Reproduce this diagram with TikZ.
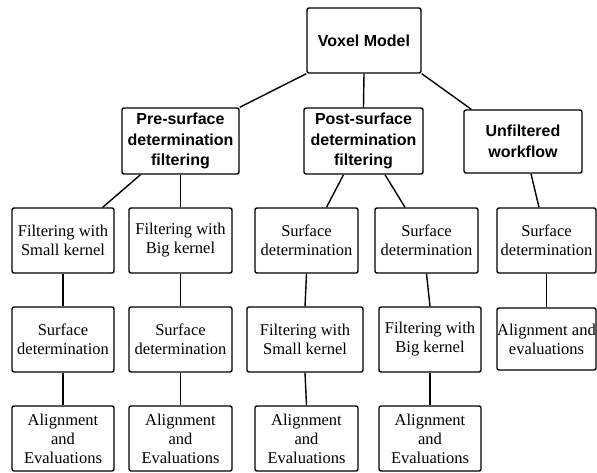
\documentclass[tikz,border=0pt]{standalone}
\usepackage{fontspec}
\setsansfont{Liberation Sans}
\newfontfamily\taskfont{LiberationSerif}[Extension=.ttf,UprightFont=*-Regular]
\usetikzlibrary{positioning}

\begin{document}
\begin{tikzpicture}[x=1pt,y=-1pt]

\tikzstyle{headbox} = [draw=black,line width=1.4pt,rounded corners=2pt,align=center,inner sep=0pt,font=\sffamily\bfseries\fontsize{16}{20.5}\selectfont]
\tikzstyle{taskbox} = [draw=black,line width=1.4pt,rounded corners=2pt,align=center,inner sep=0pt,minimum height=65pt,font=\taskfont\fontsize{16.5}{19}\selectfont]
\tikzstyle{link} = [line width=1.4pt]

\useasboundingbox (0,0) rectangle (597,472);

\node[headbox,minimum width=114pt,minimum height=65pt](h0) at (364,40.5){Voxel Model};
\node[headbox,minimum width=117pt,minimum height=66pt](h1) at (180.5,141){Pre-surface\\determination\\filtering};
\node[headbox,minimum width=119pt,minimum height=66pt](h2) at (363.5,141){Post-surface\\determination\\filtering};
\node[headbox,minimum width=118pt,minimum height=63pt](h3) at (523,141.5){Unfiltered\\workflow};

\node[taskbox,minimum width=102pt](t11) at (63,240.5){Filtering with\\Small kernel};
\node[taskbox,minimum width=102pt](t12) at (63,339.5){Surface\\determination};
\node[taskbox,minimum width=102pt](t13) at (63,438.5){Alignment\\and\\Evaluations};

\node[taskbox,minimum width=103pt](t21) at (180.5,240.5){Filtering with\\Big kernel};
\node[taskbox,minimum width=103pt](t22) at (180.5,339.5){Surface\\determination};
\node[taskbox,minimum width=103pt](t23) at (180.5,438.5){Alignment\\and\\Evaluations};

\node[taskbox,minimum width=103pt](t31) at (306.5,240.5){Surface\\determination};
\node[taskbox,minimum width=116pt](t32) at (305,339.5){Filtering with\\Small kernel};
\node[taskbox,minimum width=103pt](t33) at (306.5,438.5){Alignment\\and\\Evaluations};

\node[taskbox,minimum width=103pt](t41) at (426.5,240.5){Surface\\determination};
\node[taskbox,minimum width=102pt](t42) at (430,339.5){Filtering with\\Big kernel};
\node[taskbox,minimum width=102pt](t43) at (430,438.5){Alignment\\and\\Evaluations};

\node[taskbox,minimum width=99pt](t51) at (546.5,240.5){Surface\\determination};
\node[taskbox,minimum width=99pt,minimum height=62pt](t52) at (546.5,339){Alignment and\\evaluations};

\draw[link] (h0.south west) -- (h1.north east);
\draw[link] (h0.south) -- (h2.north);
\draw[link] (h0.south east) -- ([xshift=8pt]h3.north west);

\draw[link] ([xshift=-40pt]h1.south) -- ([xshift=-12pt]t11.north east);
\draw[link] (h1.south) -- (t21.north);
\draw[link] ([xshift=-20pt]h2.south) -- ([xshift=20pt]t31.north);
\draw[link] ([xshift=21.5pt]h2.south) -- ([xshift=-21.5pt]t41.north);
\draw[link] ([xshift=8pt]h3.south) -- ([xshift=-7.5pt]t51.north);

\foreach \c in {1,2,3,4}{
  \draw[link] (t\c1.south) -- (t\c2.north);
  \draw[link] (t\c2.south) -- (t\c3.north);
}
\draw[link] (t51.south) -- (t52.north);

\end{tikzpicture}
\end{document}
